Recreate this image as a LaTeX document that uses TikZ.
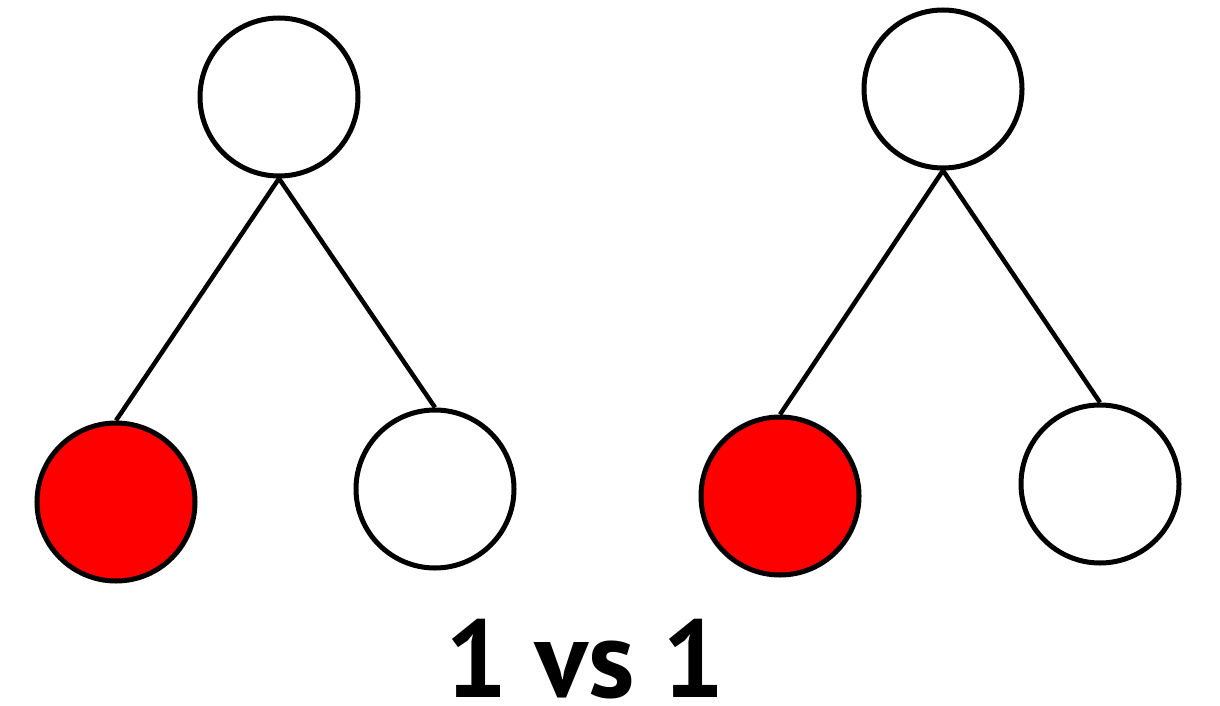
\documentclass[tikz,border=0pt]{standalone}
\usepackage{fontspec}
\setsansfont{PT Sans}
\begin{document}
\begin{tikzpicture}[x=1pt,y=-1pt,
  treenode/.style={circle,draw=black,line width=5pt,minimum size=158pt,inner sep=0pt,fill=white},
  marked/.style={treenode,fill=red},
  branch/.style={line width=4.5pt}]
\useasboundingbox (0,0) rectangle (1220,706);
% left tree
\node[treenode] (a) at (279,97) {};
\node[marked]   (b) at (116,502) {};
\node[treenode] (c) at (435,489) {};
% right tree
\node[treenode] (d) at (943,89) {};
\node[marked]   (e) at (780,496) {};
\node[treenode] (f) at (1100,484) {};
\draw[branch] (a.south) -- (b.north);
\draw[branch] (a.south) -- (c.north);
\draw[branch] (d.south) -- (e.north);
\draw[branch] (d.south) -- (f.north);
\node[font=\sffamily\bfseries\fontsize{110}{120}\selectfont,anchor=base,inner sep=0pt,text depth=0pt] (t) at (585,697) {1 vs 1};
\end{tikzpicture}
\end{document}
